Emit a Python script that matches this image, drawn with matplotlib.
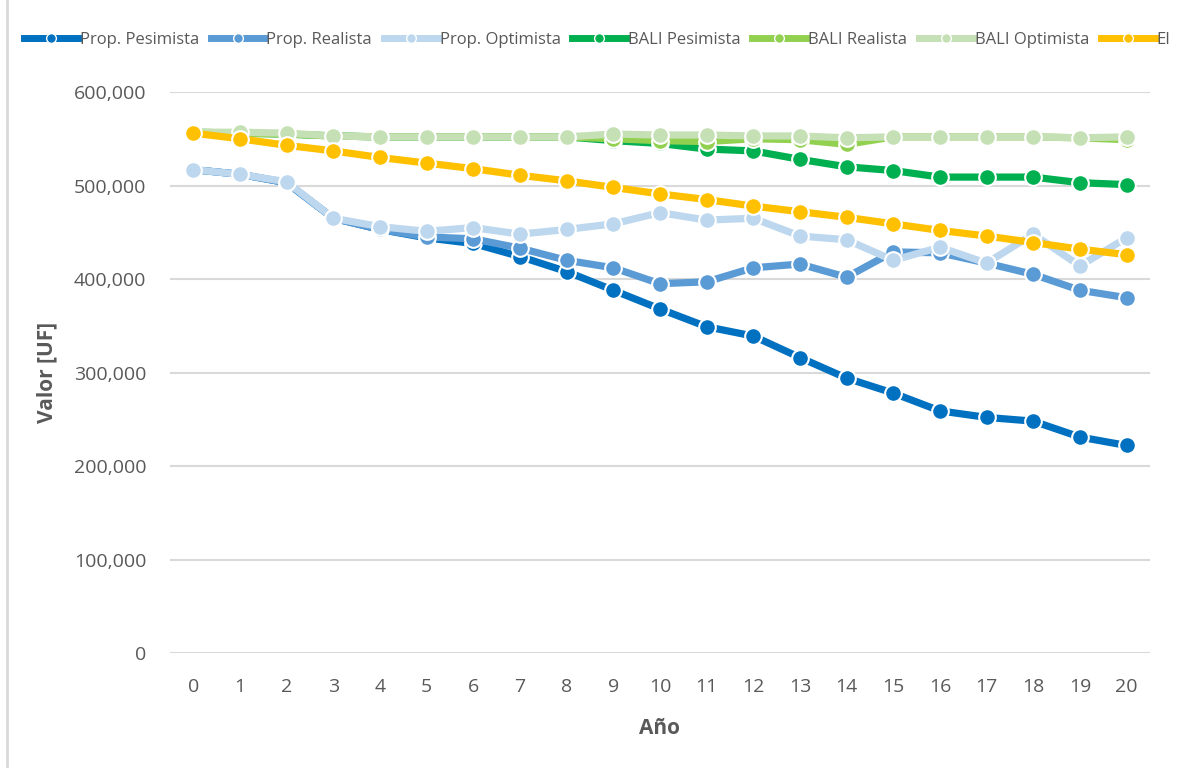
import matplotlib.pyplot as plt
from matplotlib.lines import Line2D
from matplotlib.ticker import FuncFormatter

plt.rcParams["font.family"] = ["Open Sans", "DejaVu Sans"]

years = list(range(21))

prop_pesimista = [517, 512, 503, 465, 453, 444, 438, 424, 408, 388, 368,
                  349, 339, 316, 294, 278, 259, 252, 248, 231, 222]
prop_realista = [517, 512, 503, 465, 453, 445, 443, 433, 420, 412, 395,
                 397, 412, 416, 402, 429, 428, 417, 405, 388, 380]
prop_optimista = [517, 512, 504, 465, 456, 451, 455, 448, 453, 459, 471,
                  463, 465, 446, 442, 420, 434, 417, 448, 414, 444]
bali_pesimista = [557, 556, 555, 553, 552, 552, 552, 552, 552, 548, 545,
                  539, 537, 528, 520, 516, 509, 509, 509, 503, 501]
bali_realista = [557, 556, 555, 553, 552, 552, 552, 552, 552, 550, 548,
                 547, 550, 549, 544, 552, 552, 552, 552, 551, 549]
bali_optimista = [557, 557, 556, 553, 552, 552, 552, 552, 552, 555, 554,
                  554, 553, 553, 551, 552, 552, 552, 552, 551, 552]
ei = [556, 550, 543, 537, 530, 524, 518, 511, 505, 498, 491,
      485, 478, 472, 466, 459, 452, 446, 439, 432, 426]

series = [
    ("Prop. Pesimista", prop_pesimista, "#0070C0"),
    ("Prop. Realista", prop_realista, "#5B9BD5"),
    ("Prop. Optimista", prop_optimista, "#BDD7EE"),
    ("BALI Pesimista", bali_pesimista, "#00B050"),
    ("BALI Realista", bali_realista, "#92D050"),
    ("BALI Optimista", bali_optimista, "#C5E0B4"),
    ("EI", ei, "#FFC000"),
]

grey = "#595959"

fig = plt.figure(figsize=(11.82, 7.68), dpi=100)
ax = fig.add_axes([0.1438, 0.1497, 0.829, 0.7305])

handles = []
for name, vals, col in series:
    ax.plot(years, [v * 1000 for v in vals], color=col, lw=5.2,
            marker="o", ms=12, mfc=col, mec="white", mew=1.5,
            solid_capstyle="butt")
    handles.append(Line2D([], [], color=col, lw=5, marker="o", ms=7,
                          mfc=col, mec="white", mew=1.0, label=name))

ax.set_xlim(-0.5, 20.5)
ax.set_ylim(0, 600000)
ax.set_xticks(years)
ax.set_yticks(range(0, 600001, 100000))
ax.yaxis.set_major_formatter(FuncFormatter(lambda v, p: f"{int(v):,}"))
ax.grid(axis="y", color="#D9D9D9", lw=1.5)
ax.set_axisbelow(True)
for s in ax.spines.values():
    s.set_visible(False)
ax.tick_params(axis="both", length=0, labelsize=14, labelcolor=grey)
ax.tick_params(axis="y", pad=17)
ax.tick_params(axis="x", pad=18)

ax.set_ylabel("Valor [UF]", fontsize=15, fontweight="bold", color=grey,
              labelpad=12)
ax.set_xlabel("Año", fontsize=15, fontweight="bold", color=grey, labelpad=16)

fig.legend(handles=handles, loc="upper left", bbox_to_anchor=(0.0075, 0.978),
           ncol=7, frameon=False, fontsize=12, labelcolor=grey,
           handlelength=3.25, handletextpad=0.1, columnspacing=0.7)

# thin frame line on the left edge of the chart area
fig.add_artist(Line2D([0.0055, 0.0055], [0, 1], transform=fig.transFigure,
                      color="#D9D9D9", lw=2))

fig.savefig("out.png", dpi=100)
